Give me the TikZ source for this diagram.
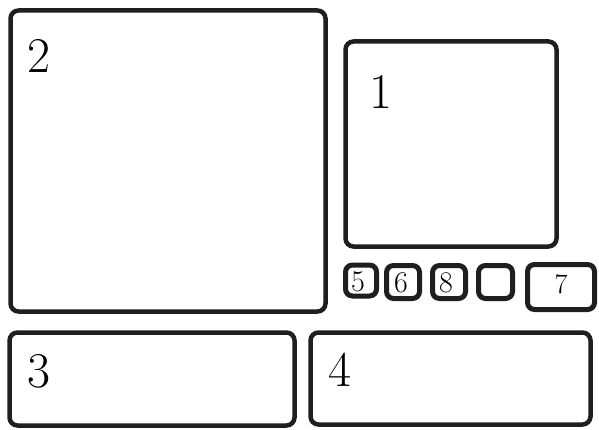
\documentclass[tikz,border=0pt]{standalone}
\begin{document}
\begin{tikzpicture}[x=1pt,y=-1pt,
  box/.style={draw=black!88, line width=4.5pt, rounded corners=8pt, inner sep=0pt, fill=white},
  big/.style={inner sep=0pt, font=\fontsize{50}{50}\selectfont},
  small/.style={inner sep=0pt, font=\fontsize{30}{30}\selectfont}]
\useasboundingbox (0,0) rectangle (599,430);
% big boxes
\node[box, minimum width=315pt, minimum height=301pt] (b2) at (168,161) {};
\node[box, minimum width=211pt, minimum height=205pt] (b1) at (451,144) {};
\node[box, minimum width=285pt, minimum height=93pt] (b3) at (152,379) {};
\node[box, minimum width=280pt, minimum height=92pt] (b4) at (450.5,378.5) {};
% small boxes
\node[box, line width=5pt, rounded corners=7pt, minimum width=31pt, minimum height=31pt] (b5) at (361,280.5) {};
\node[box, line width=5pt, rounded corners=7pt, minimum width=33pt, minimum height=33pt] (b6) at (403,282) {};
\node[box, line width=5pt, rounded corners=7pt, minimum width=33pt, minimum height=33pt] (b8) at (449,282) {};
\node[box, line width=5pt, rounded corners=7pt, minimum width=34pt, minimum height=33pt] (b9) at (495.5,282) {};
\node[box, line width=5pt, rounded corners=7pt, minimum width=67pt, minimum height=45pt] (b7) at (561,287) {};
% labels
\node[big] (l2) at (39,56) {2};
\node[big] (l1) at (381,92) {1};
\node[big] (l3) at (39,371) {3};
\node[big] (l4) at (340,370) {4};
\node[small] (l5) at (358,282) {5};
\node[small] (l6) at (401,283) {6};
\node[small] (l8) at (446,283) {8};
\node[small, font=\fontsize{28}{28}\selectfont] (l7) at (561,284) {7};
\end{tikzpicture}
\end{document}
